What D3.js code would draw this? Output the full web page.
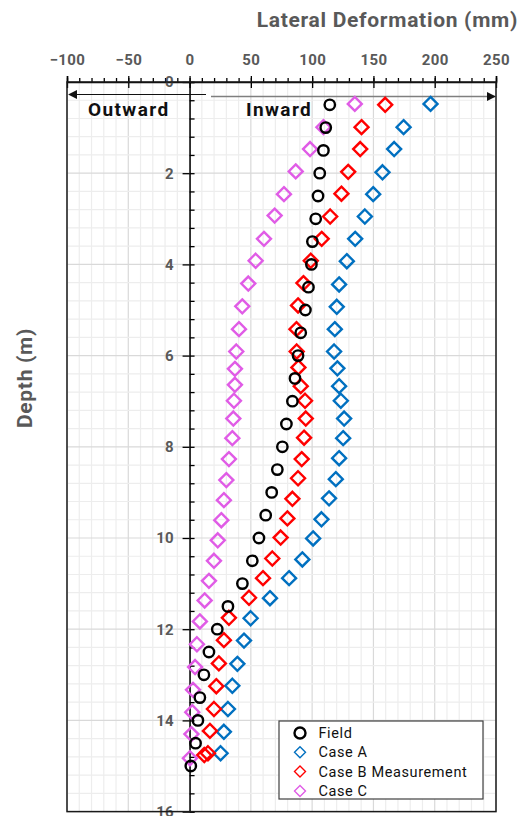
<!DOCTYPE html>
<html>
<head>
<meta charset="utf-8">
<script src="https://cdn.jsdelivr.net/npm/d3@7"></script>
<style>
  body { margin: 0; background: #fff; }
  text { font-family: Roboto, "DejaVu Sans", sans-serif; }
</style>
</head>
<body>
<script>
// data: depth (m) and lateral deformation (mm)
var fieldDepth = [0.5,1,1.5,2,2.5,3,3.5,4,4.5,5,5.5,6,6.5,7,7.5,8,8.5,9,9.5,10,10.5,11,11.5,12,12.5,13,13.5,14,14.5,15];
var fieldVals = [114.4,111.1,109.2,106.2,104.8,102.9,100.2,99.4,97,94.5,90.7,88.5,86,83.9,79,75.7,71.6,67,62.1,56.6,51.2,43.1,31.3,22.6,15.8,11.7,8.4,6.8,4.9,1];

var caseADepth = [0.48,0.99,1.47,1.98,2.46,2.95,3.44,3.93,4.44,4.93,5.42,5.91,6.28,6.67,6.99,7.38,7.81,8.25,8.71,9.13,9.59,10.01,10.47,10.88,11.32,11.76,12.25,12.76,13.24,13.75,14.25,14.72];
var caseAVals = [196.6,174.6,166.9,157.4,149.8,143,135.1,128.3,122,120.1,118.5,117.9,120.6,122,123.4,126.1,125.3,122,119.3,113.8,107.6,100.8,92,81.2,65.6,49.8,44.4,39,34.9,31.3,28,25.3];

var caseBDepth = [0.5,0.99,1.47,1.97,2.45,2.95,3.44,3.92,4.41,4.9,5.42,5.91,6.26,6.67,6.99,7.38,7.8,8.27,8.69,9.14,9.57,9.99,10.45,10.88,11.31,11.75,12.24,12.75,13.25,13.75,14.23,14.72,14.76];
var caseBVals = [159.6,140.3,139.2,129.4,123.9,114.7,107.8,98.9,92.9,88.5,87.2,87.4,88.8,90.7,94.2,94.8,93.4,91.5,88.5,83.9,79.8,74.3,67.5,59.9,48.5,32.1,28,23.9,21.8,19.9,16.6,15,12];

var caseCDepth = [0.48,0.99,1.47,1.96,2.46,2.93,3.44,3.92,4.42,4.92,5.42,5.91,6.29,6.64,6.99,7.38,7.81,8.27,8.73,9.17,9.61,10.05,10.5,10.94,11.37,11.83,12.33,12.83,13.33,13.82,14.3,14.83];
var caseCVals = [134.8,109.2,98.3,86.6,77,69.4,60.7,53.9,47.9,43,40.3,38.1,37,37,36.2,35.7,34.9,32.1,30,28,25.9,23,19.9,15.8,12.3,8.4,6,4.5,2.8,2.2,1.5,0.3];

var xTicks = [-100,-50,0,50,100,150,200,250];
var yTicks = [0,2,4,6,8,10,12,14,16];

var series = [
  { name: "Case A", depth: caseADepth, vals: caseAVals, color: "#0070c0", shape: "diamond" },
  { name: "Case B Measurement", depth: caseBDepth, vals: caseBVals, color: "#ff0000", shape: "diamond" },
  { name: "Case C", depth: caseCDepth, vals: caseCVals, color: "#e05ce6", shape: "diamond" },
  { name: "Field", depth: fieldDepth, vals: fieldVals, color: "#000", shape: "circle" }
];

var svg = d3.select("body").append("svg")
  .attr("width", 527)
  .attr("height", 816);

var pLeft = 67, pRight = 496, pTop = 82, pBottom = 811.6;

var x = d3.scaleLinear().domain([-100, 250]).range([pLeft, pRight]);
var y = d3.scaleLinear().domain([0, 16]).range([pTop, pBottom]);

var grey = "#595959";

// grid
var g = svg.append("g");
g.selectAll(".vminor")
  .data(d3.range(-100, 251, 10))
  .enter().append("line")
  .attr("x1", function(d) { return x(d); })
  .attr("x2", function(d) { return x(d); })
  .attr("y1", pTop).attr("y2", pBottom)
  .attr("stroke", function(d) { return d % 50 === 0 ? "#d9d9d9" : "#ededed"; })
  .attr("stroke-width", 1.2);
g.selectAll(".hminor")
  .data(d3.range(0, 16.01, 0.4))
  .enter().append("line")
  .attr("y1", function(d) { return y(d); })
  .attr("y2", function(d) { return y(d); })
  .attr("x1", pLeft).attr("x2", pRight)
  .attr("stroke", function(d) { return Math.abs(d / 2 - Math.round(d / 2)) < 1e-6 ? "#d9d9d9" : "#ededed"; })
  .attr("stroke-width", 1.2);

// top axis
var topAxis = svg.append("g")
  .attr("transform", "translate(0," + pTop + ")")
  .call(d3.axisTop(x).tickValues(xTicks).tickSize(6).tickPadding(11).tickFormat(d3.format("d")));
svg.append("g")
  .attr("transform", "translate(0," + pTop + ")")
  .call(d3.axisBottom(x).tickValues(xTicks).tickSize(6).tickFormat(""))
  .select(".domain").remove();
svg.append("g")
  .attr("transform", "translate(0," + pTop + ")")
  .call(d3.axisTop(x).tickValues(d3.range(-100, 251, 10)).tickSize(4).tickFormat(""))
  .select(".domain").remove();
topAxis.selectAll("text")
  .attr("fill", grey)
  .attr("font-size", 15)
  .attr("font-weight", "bold")
  .attr("letter-spacing", 0.4)
  .text(function(d) { return d < 0 ? "\u2212" + Math.abs(d) : d; });

// left axis at x = 0
var yAxis = svg.append("g")
  .attr("transform", "translate(" + x(0) + ",0)")
  .call(d3.axisLeft(y).tickValues(yTicks).tickSize(7).tickPadding(9));
yAxis.select(".domain").remove();
yAxis.selectAll("text")
  .attr("fill", grey)
  .attr("font-size", 15)
  .attr("font-weight", "bold");
svg.append("g")
  .attr("transform", "translate(" + x(0) + ",0)")
  .call(d3.axisRight(y).tickValues(d3.range(0, 16.01, 0.4)).tickSize(5).tickFormat(""));

svg.selectAll(".tick line").attr("stroke", "#000").attr("stroke-width", 1.3);
svg.selectAll(".domain").attr("stroke", "#000").attr("stroke-width", 1.5);

// frame
svg.append("rect")
  .attr("x", pLeft).attr("y", pTop)
  .attr("width", pRight - pLeft).attr("height", pBottom - pTop)
  .attr("fill", "none")
  .attr("stroke", "#1a1a1a")
  .attr("stroke-width", 1.5);

// arrows
var defs = svg.append("defs");
defs.append("marker")
  .attr("id", "head")
  .attr("viewBox", "0 0 10 10")
  .attr("refX", 9).attr("refY", 5)
  .attr("markerWidth", 9).attr("markerHeight", 9)
  .attr("markerUnits", "userSpaceOnUse")
  .attr("orient", "auto")
  .append("path")
  .attr("d", "M0,0L10,5L0,10Z")
  .attr("fill", "#111");

svg.append("line")
  .attr("x1", 206).attr("x2", pLeft + 2)
  .attr("y1", 94.5).attr("y2", 94.5)
  .attr("stroke", "#111").attr("stroke-width", 1.2)
  .attr("marker-end", "url(#head)");
svg.append("line")
  .attr("x1", 211).attr("x2", pRight - 1)
  .attr("y1", 96.5).attr("y2", 96.5)
  .attr("stroke", "#7f7f7f").attr("stroke-width", 1.5)
  .attr("marker-end", "url(#head)");

svg.append("text")
  .attr("x", 88).attr("y", 116)
  .attr("font-size", 19).attr("font-weight", "bold")
  .attr("letter-spacing", 1.4)
  .attr("fill", "#111")
  .text("Outward");
svg.append("text")
  .attr("x", 246).attr("y", 116)
  .attr("font-size", 19).attr("font-weight", "bold")
  .attr("letter-spacing", 1.4)
  .attr("fill", "#111")
  .text("Inward");

// titles
svg.append("text")
  .attr("x", 518).attr("y", 27)
  .attr("text-anchor", "end")
  .attr("font-size", 21).attr("font-weight", "bold")
  .attr("letter-spacing", 0.7)
  .attr("fill", grey)
  .text("Lateral Deformation (mm)");
svg.append("text")
  .attr("transform", "translate(32,378) rotate(-90)")
  .attr("text-anchor", "middle")
  .attr("font-size", 21).attr("font-weight", "bold")
  .attr("letter-spacing", 0.7)
  .attr("fill", grey)
  .text("Depth (m)");

// markers
function diamond(s) {
  return "M0," + (-s) + "L" + s + ",0L0," + s + "L" + (-s) + ",0Z";
}

series.forEach(function(s) {
  var pts = s.depth.map(function(d, i) { return { d: d, v: s.vals[i] }; });
  var sel = svg.append("g").selectAll("path")
    .data(pts)
    .enter();
  if (s.shape === "circle") {
    sel.append("circle")
      .attr("cx", function(p) { return x(p.v); })
      .attr("cy", function(p) { return y(p.d); })
      .attr("r", 5.2)
      .attr("fill", "none")
      .attr("stroke", s.color)
      .attr("stroke-width", 2.4);
  } else {
    sel.append("path")
      .attr("transform", function(p) { return "translate(" + x(p.v) + "," + y(p.d) + ")"; })
      .attr("d", diamond(7))
      .attr("fill", "none")
      .attr("stroke", s.color)
      .attr("stroke-width", 2.4);
  }
});

// legend
var legendItems = [series[3], series[0], series[1], series[2]];
var lg = svg.append("g");
lg.append("rect")
  .attr("x", 279).attr("y", 721)
  .attr("width", 204).attr("height", 78)
  .attr("fill", "#fff")
  .attr("stroke", "#404040")
  .attr("stroke-width", 1.2);
legendItems.forEach(function(s, i) {
  var ly = 733 + i * 19.3;
  if (s.shape === "circle") {
    lg.append("circle")
      .attr("cx", 300).attr("cy", ly).attr("r", 5.5)
      .attr("fill", "none").attr("stroke", s.color).attr("stroke-width", 2.4);
  } else {
    lg.append("path")
      .attr("transform", "translate(300," + ly + ")")
      .attr("d", diamond(5.5))
      .attr("fill", "none").attr("stroke", s.color).attr("stroke-width", 1.4);
  }
  lg.append("text")
    .attr("x", 318.5).attr("y", ly + 5)
    .attr("font-size", 14.5)
    .attr("letter-spacing", 0.6)
    .attr("fill", "#111")
    .text(s.name);
});
</script>
</body>
</html>
